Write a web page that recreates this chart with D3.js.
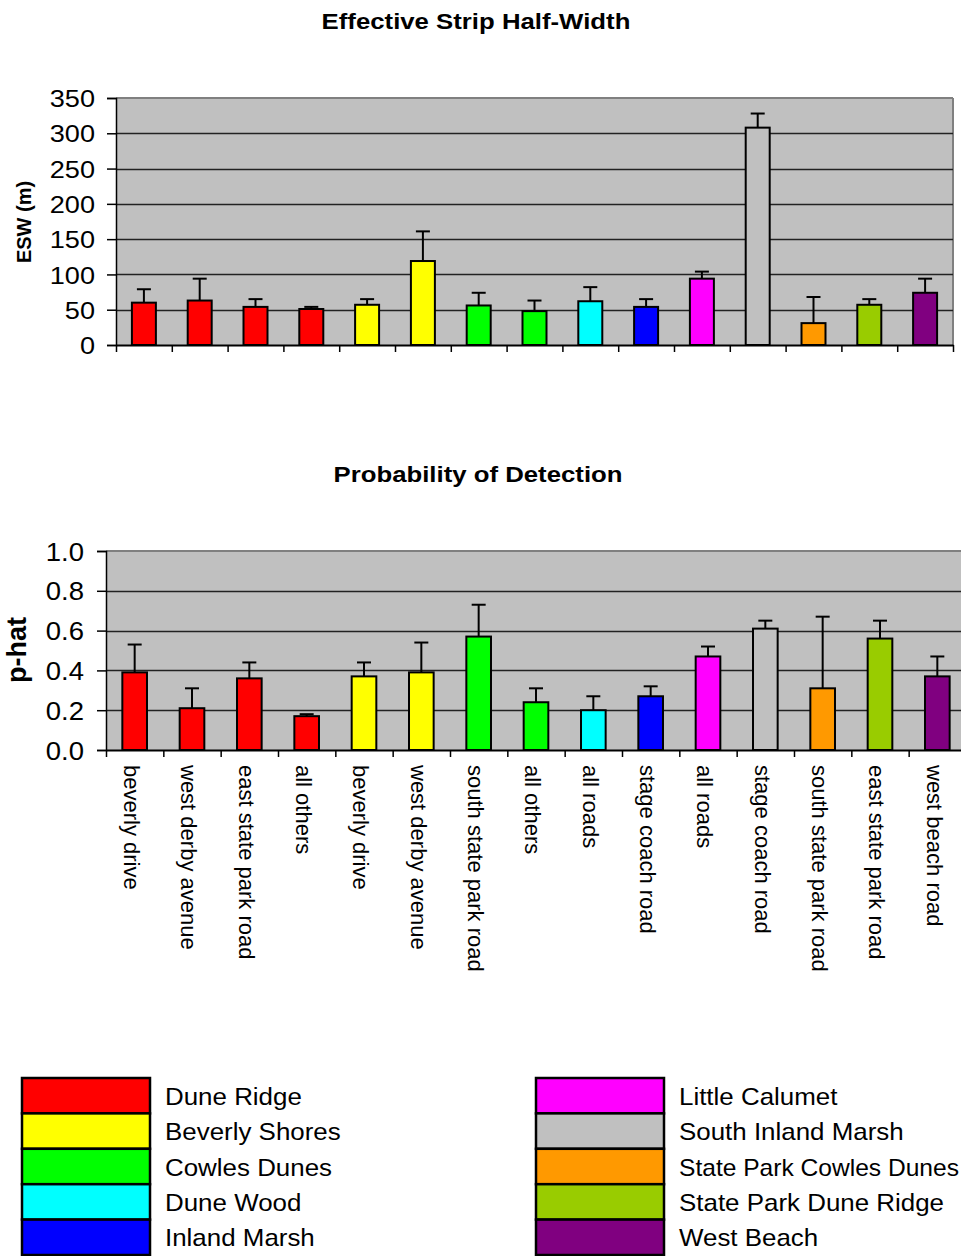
<!DOCTYPE html>
<html>
<head>
<meta charset="utf-8">
<script src="https://cdn.jsdelivr.net/npm/d3@7"></script>
<style>
  html, body { margin: 0; padding: 0; background: #fff; }
  svg { display: block; }
  text { font-family: "Liberation Sans", Arial, sans-serif; fill: #000; }
</style>
</head>
<body>
<svg id="chart" width="961" height="1256"></svg>
<script>
// ---------- DATA ----------
const categories = [
  "beverly drive", "west derby avenue", "east state park road", "all others",
  "beverly drive", "west derby avenue",
  "south state park road", "all others",
  "all roads",
  "stage coach road",
  "all roads",
  "stage coach road",
  "south state park road",
  "east state park road",
  "west beach road"
];
const areas = [
  "Dune Ridge", "Dune Ridge", "Dune Ridge", "Dune Ridge",
  "Beverly Shores", "Beverly Shores",
  "Cowles Dunes", "Cowles Dunes",
  "Dune Wood",
  "Inland Marsh",
  "Little Calumet",
  "South Inland Marsh",
  "State Park Cowles Dunes",
  "State Park Dune Ridge",
  "West Beach"
];
const eswValues = [60, 63, 54, 51, 57, 119, 56, 48, 62, 54, 94, 308, 31, 57, 74];
const eswUpper  = [79, 94, 65, 54, 65, 161, 74, 63, 82, 65, 104, 328, 68, 65, 94];
const phatValues = [0.39, 0.21, 0.36, 0.17, 0.37, 0.39, 0.57, 0.24, 0.20, 0.27, 0.47, 0.61, 0.31, 0.56, 0.37];
const phatUpper  = [0.53, 0.31, 0.44, 0.18, 0.44, 0.54, 0.73, 0.31, 0.27, 0.32, 0.52, 0.65, 0.67, 0.65, 0.47];
const eswTicks = [0, 50, 100, 150, 200, 250, 300, 350];
const phatTicks = [0, 0.2, 0.4, 0.6, 0.8, 1.0];
const legendNames = [
  "Dune Ridge", "Beverly Shores", "Cowles Dunes", "Dune Wood", "Inland Marsh",
  "Little Calumet", "South Inland Marsh", "State Park Cowles Dunes", "State Park Dune Ridge", "West Beach"
];
const legendColors = [
  "#ff0000", "#ffff00", "#00ff00", "#00ffff", "#0000ff",
  "#ff00ff", "#c0c0c0", "#ff9900", "#99cc00", "#800080"
];
// ---------- END DATA ----------

const color = d3.scaleOrdinal().domain(legendNames).range(legendColors);
const svg = d3.select("#chart");

function hText(g, x, y, txt, size, weight, anchor, sx) {
  return g.append("text")
    .attr("transform", `translate(${x},${y}) scale(${sx},1)`)
    .attr("text-anchor", anchor || "start")
    .style("font-size", size + "px")
    .style("font-weight", weight || "normal")
    .text(txt);
}

function drawChart(opts) {
  const {x0, x1, yTop, yBot, max, ticks, values, upper, fmt, tickFont, tickSX, tickRight, showLabels, clipRight} = opts;
  const idx = d3.range(values.length);
  const x = d3.scaleBand().domain(idx).range([x0, x1]).paddingInner(0.57).paddingOuter(0.285);
  const y = d3.scaleLinear().domain([0, max]).range([yBot, yTop]);
  const g = svg.append("g");

  g.append("rect").attr("x", x0).attr("y", yTop)
    .attr("width", x1 - x0).attr("height", yBot - yTop).attr("fill", "#c0c0c0");
  g.append("line").attr("x1", x0).attr("x2", x1).attr("y1", yTop).attr("y2", yTop)
    .attr("stroke", "#808080").attr("stroke-width", 2);
  if (!clipRight) {
    g.append("line").attr("x1", x1).attr("x2", x1).attr("y1", yTop).attr("y2", yBot)
      .attr("stroke", "#808080").attr("stroke-width", 2);
  }
  g.append("g").selectAll("line").data(ticks.filter(t => t > 0 && t < max)).join("line")
    .attr("x1", x0).attr("x2", x1).attr("y1", d => Math.round(y(d)) + 0.5).attr("y2", d => Math.round(y(d)) + 0.5)
    .attr("stroke", "#222").attr("stroke-width", 1.3);

  g.append("g").selectAll("rect").data(idx).join("rect")
    .attr("x", i => x(i)).attr("y", i => y(values[i]))
    .attr("width", x.bandwidth()).attr("height", i => yBot - y(values[i]))
    .attr("fill", i => color(areas[i])).attr("stroke", "#000").attr("stroke-width", 2);

  const eb = g.append("g").attr("stroke", "#000").attr("stroke-width", 2);
  eb.selectAll("line.v").data(idx).join("line").attr("class", "v")
    .attr("x1", i => x(i) + x.bandwidth() / 2).attr("x2", i => x(i) + x.bandwidth() / 2)
    .attr("y1", i => y(values[i])).attr("y2", i => y(upper[i]));
  eb.selectAll("line.c").data(idx).join("line").attr("class", "c")
    .attr("x1", i => x(i) + x.bandwidth() / 2 - 7).attr("x2", i => x(i) + x.bandwidth() / 2 + 7)
    .attr("y1", i => y(upper[i])).attr("y2", i => y(upper[i]));

  const ya = d3.axisLeft(y).tickValues(ticks).tickFormat(fmt).tickSize(9).tickPadding(0);
  const yg = g.append("g").attr("transform", `translate(${x0},0)`).call(ya);
  yg.select(".domain").attr("stroke", "#000").attr("stroke-width", 1.5);
  yg.selectAll(".tick line").attr("stroke", "#000").attr("stroke-width", 1.5);
  yg.selectAll(".tick text")
    .attr("x", null)
    .attr("dy", null)
    .attr("transform", `translate(${tickRight - x0},${tickFont * 0.36}) scale(${tickSX},1)`)
    .attr("text-anchor", "end")
    .attr("fill", "#000")
    .style("font-family", '"Liberation Sans", Arial, sans-serif')
    .style("font-size", tickFont + "px");

  const xb = d3.scaleLinear().domain([0, values.length]).range([x0, x1]);
  const xa = d3.axisBottom(xb).tickValues(d3.range(values.length + 1)).tickFormat("").tickSize(7).tickSizeOuter(0);
  const xg = g.append("g").attr("transform", `translate(0,${yBot})`).call(xa);
  xg.select(".domain").attr("stroke", "#000").attr("stroke-width", 2);
  xg.selectAll(".tick line").attr("stroke", "#000").attr("stroke-width", 1.5);

  if (showLabels) {
    g.append("g").selectAll("text").data(idx).join("text")
      .attr("transform", i => `translate(${x(i) + x.bandwidth() / 2 - 3},${yBot + 15}) rotate(90)`)
      .attr("dy", "0.35em")
      .style("font-size", "22px")
      .text(i => categories[i]);
  }
  return g;
}

// Titles
hText(svg, 476, 29, "Effective Strip Half-Width", 23, "bold", "middle", 1.12);
hText(svg, 478, 482, "Probability of Detection", 23, "bold", "middle", 1.12);

drawChart({
  x0: 116, x1: 953, yTop: 98, yBot: 345, max: 350, ticks: eswTicks,
  values: eswValues, upper: eswUpper, fmt: d3.format("d"),
  tickFont: 24, tickSX: 1.13, tickRight: 95, showLabels: false, clipRight: false
});
drawChart({
  x0: 106, x1: 966, yTop: 551, yBot: 750, max: 1.0, ticks: phatTicks,
  values: phatValues, upper: phatUpper, fmt: d3.format(".1f"),
  tickFont: 25, tickSX: 1.1, tickRight: 84, showLabels: true, clipRight: true
});

svg.append("text").attr("transform", "translate(24,222) rotate(-90)")
  .attr("text-anchor", "middle").attr("dy", "0.35em")
  .style("font-size", "20px").style("font-weight", "bold").text("ESW (m)");
svg.append("text").attr("transform", "translate(17,650) rotate(-90)")
  .attr("text-anchor", "middle").attr("dy", "0.35em")
  .style("font-size", "27px").style("font-weight", "bold").text("p-hat");

// Legend
const rowH = 35.4;
const lg = svg.append("g");
legendNames.forEach((name, i) => {
  const col = Math.floor(i / 5), row = i % 5;
  const sx = col === 0 ? 22 : 536;
  const sy = 1078 + row * rowH;
  lg.append("rect").attr("x", sx).attr("y", sy).attr("width", 128).attr("height", rowH)
    .attr("fill", color(name)).attr("stroke", "#000").attr("stroke-width", 2.5);
  const t = hText(lg, sx + 143, sy + rowH / 2 + 9, name, 24, "normal", "start", 1.08);
  // keep text inside the page: squeeze only if it would run past the right edge
  const w = t.node().getComputedTextLength() * 1.08;
  const avail = 961 - (sx + 143) - 2;
  if (w > avail) t.attr("transform", `translate(${sx + 143},${sy + rowH / 2 + 9}) scale(${1.08 * avail / w},1)`);
});
</script>
</body>
</html>
